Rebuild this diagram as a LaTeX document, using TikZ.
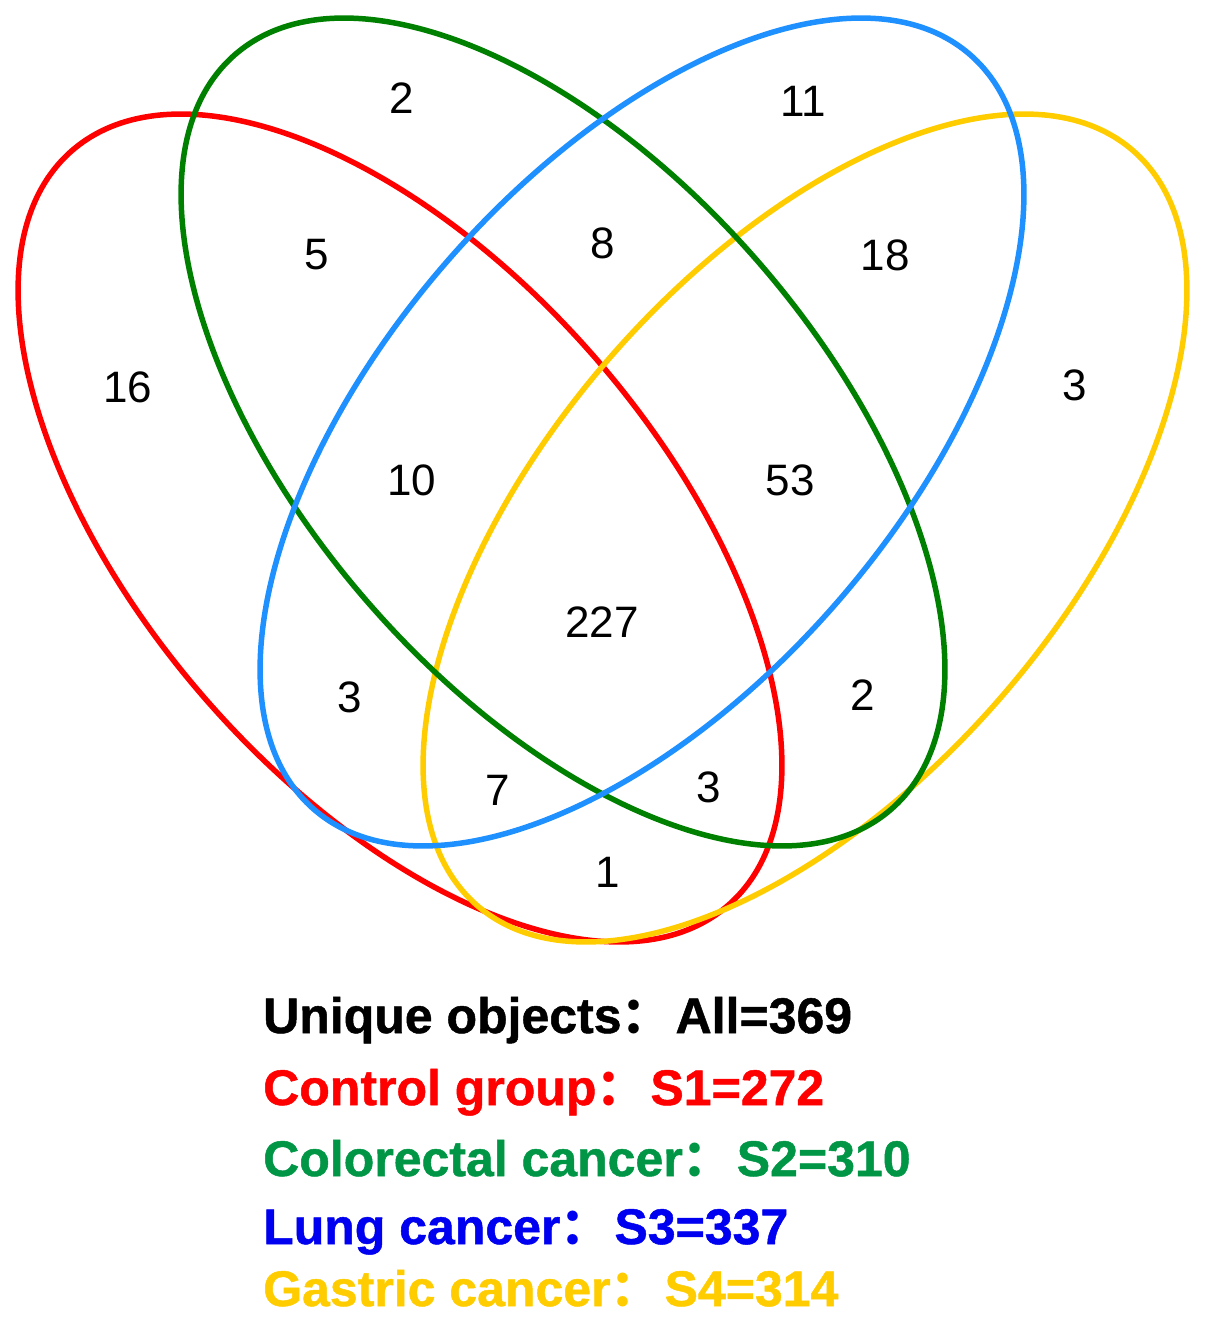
\documentclass[tikz,border=0pt]{standalone}
\usepackage{fontspec}
\setmainfont{Liberation Sans}
\newfontfamily\cjk{Noto Sans CJK SC}
\newfontfamily\legfont{Liberation Sans Bold}[FakeBold=1]
\definecolor{cred}{RGB}{255,0,0}
\definecolor{cgreen}{RGB}{0,128,0}
\definecolor{cblue}{RGB}{30,144,255}
\definecolor{cyellow}{RGB}{255,204,0}
\definecolor{tgreen}{RGB}{0,150,70}
\definecolor{tblue}{RGB}{0,0,240}
\definecolor{tyellow}{RGB}{255,204,0}
\tikzset{
  vring/.style={line width=5.5pt},
  num/.style={inner sep=0pt, font=\fontsize{44}{50}\selectfont},
  legend/.style={inner sep=0pt, anchor=base west, font=\fontsize{50}{56}\selectfont\legfont}
}
\newcommand{\fwcolon}{{\cjk\bfseries ：}\hspace{4pt}}
\begin{document}
\begin{tikzpicture}[x=1pt,y=1pt]
\useasboundingbox (0,0) rectangle (1205,-1325);
% ellipses
\draw[vring, cred, rotate around={-49:(400,-528)}] (400,-528) ellipse [x radius=500, y radius=259];
\draw[vring, cyellow, rotate around={49:(805,-528)}] (805,-528) ellipse [x radius=500, y radius=259];
\draw[vring, cgreen, rotate around={-49:(563,-432)}] (563,-432) ellipse [x radius=500, y radius=259];
\draw[vring, cblue, rotate around={49:(642,-432)}] (642,-432) ellipse [x radius=500, y radius=259];
% region counts
\node[num] (n2a) at (402,-98) {2};
\node[num] (n11) at (803,-101) {11};
\node[num] (n5) at (317,-255) {5};
\node[num] (n8) at (603,-243) {8};
\node[num] (n18) at (885,-255) {18};
\node[num] (n16) at (128,-387) {16};
\node[num] (n3a) at (1075,-385) {3};
\node[num] (n10) at (412,-480) {10};
\node[num] (n53) at (790,-480) {53};
\node[num] (n227) at (602,-622) {227};
\node[num] (n3b) at (350,-697) {3};
\node[num] (n2b) at (863,-695) {2};
\node[num] (n7) at (498,-790) {7};
\node[num] (n3c) at (709,-787) {3};
\node[num] (n1) at (608,-872) {1};
% legend
\node[legend, text=black] (l0) at (263,-1033) {Unique objects\fwcolon All=369};
\node[legend, text=cred] (l1) at (263,-1105) {Control group\fwcolon S1=272};
\node[legend, text=tgreen] (l2) at (263,-1176) {Colorectal cancer\fwcolon S2=310};
\node[legend, text=tblue] (l3) at (263,-1244) {Lung cancer\fwcolon S3=337};
\node[legend, text=tyellow] (l4) at (263,-1306) {Gastric cancer\fwcolon S4=314};
\end{tikzpicture}
\end{document}
